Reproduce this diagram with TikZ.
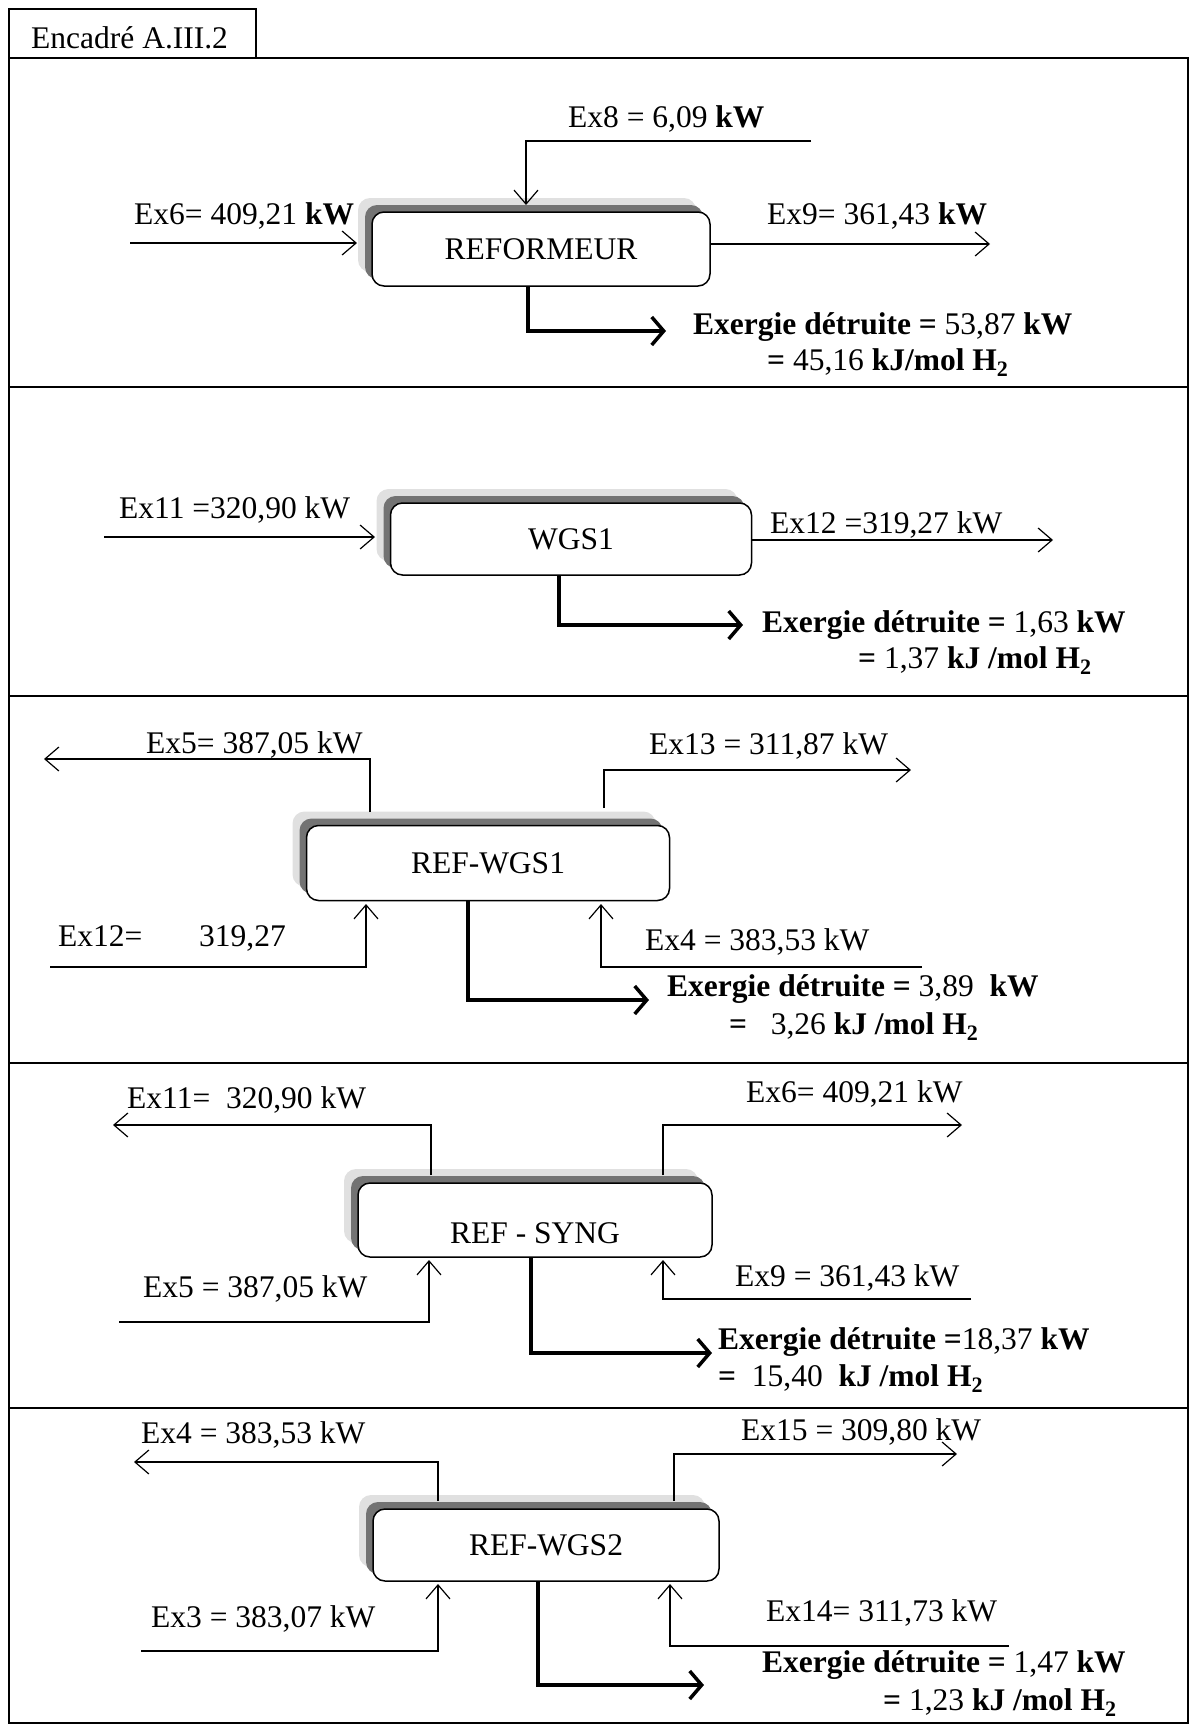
\documentclass[tikz,border=0pt]{standalone}
\usepackage{fontspec}
\setmainfont{Liberation Serif}
\usepackage{tikz}
\usetikzlibrary{
  arrows.meta,
  shadows
}
\tikzset{
  unit/.style={
    draw, line width=1.5pt, rounded corners=12pt, fill=white,
    general shadow={fill=black!12, shadow xshift=-14pt, shadow yshift=14pt},
    general shadow={fill=black!55, shadow xshift=-7pt, shadow yshift=7pt}},
  flow/.style={
    -{Straight Barb[length=14pt,width=24pt]},
    line width=1.2pt},
  loss/.style={
    -{Straight Barb[length=12pt,width=28pt,line width=3.5pt]},
    line width=4pt},
  lbl/.style={inner sep=0pt, anchor=west}
  }

\begin{document}
\begin{tikzpicture}[x=1pt, y=-1pt, font=\fontsize{31.5}{37}\selectfont]
		\useasboundingbox (0,0) rectangle (1189,1724);
		% frame and tab
		\draw [line width=2pt] (9,58) rectangle (1187.5,1722.5);
		\draw [line width=2pt] (9,9) rectangle (256,58);
		\node [lbl] (tab) at (31,38) {Encadré A.III.2};
		\foreach \y in {387,696,1063,1408}
			\draw [line width=2pt] (9,\y) -- (1187.5,\y);

		% reformeur
		\node [unit, minimum width=338pt, minimum height=74pt] (ref) at (541,249) {REFORMEUR};
		\coordinate (i6) at (130,243);
		\coordinate (i6e) at (357,243);
		\coordinate (i8) at (811,141);
		\coordinate (i8e) at (526,205);
		\coordinate (o9) at (990,244);
		\coordinate (l1) at (666,331);
		\draw [flow] (i6) to (i6e);
		\draw [flow] (i8) -| (i8e);
		\draw [flow] (o9 -| ref.east) to (o9);
		\draw [loss] ([xshift=-13pt]ref.south) |- (l1);
		\node [lbl] (t6) at (134,216) {Ex6= 409,21 \textbf{kW}};
		\node [lbl] (t8) at (568,119) {Ex8 = 6,09 \textbf{kW}};
		\node [lbl] (t9) at (767,216) {Ex9= 361,43 \textbf{kW}};
		\node [lbl] (d1a) at (693,327) {\textbf{Exergie détruite =} 53,87 \textbf{kW}};
		\node [lbl] (d1b) at (767,363) {\textbf{=} 45,16 \textbf{kJ/mol H\textsubscript{2}}};

		% wgs1
		\node [unit, minimum width=361pt, minimum height=72pt] (wgs) at (571,539) {WGS1};
		\coordinate (i11) at (104,537);
		\coordinate (i11e) at (375,537);
		\coordinate (o12) at (1053,540);
		\coordinate (l2) at (743,625);
		\draw [flow] (i11) to (i11e);
		\draw [flow] (o12 -| wgs.east) to (o12);
		\draw [loss] ([xshift=-12pt]wgs.south) |- (l2);
		\node [lbl] (t11) at (119,510) {Ex11 =320,90 kW};
		\node [lbl] (t12) at (770,525) {Ex12 =319,27 kW};
		\node [lbl] (d2a) at (762,625) {\textbf{Exergie détruite =} 1,63 \textbf{kW}};
		\node [lbl] (d2b) at (858,661) {\textbf{=} 1,37 \textbf{kJ /mol H\textsubscript{2}}};

		% ref-wgs1
		\node [unit, minimum width=363pt, minimum height=75pt] (rwa) at (488,863) {REF-WGS1};
		\coordinate (o5s) at (370,812);
		\coordinate (o5) at (44,759);
		\coordinate (o13s) at (604,808);
		\coordinate (o13) at (911,770);
		\coordinate (i12) at (50,967);
		\coordinate (i12e) at (366,904);
		\coordinate (i4) at (922,967);
		\coordinate (i4e) at (601,904);
		\coordinate (l3) at (649,1000);
		\draw [flow] (o5s) |- (o5);
		\draw [flow] (o13s) |- (o13);
		\draw [flow] (i12) -| (i12e);
		\draw [flow] (i4) -| (i4e);
		\draw [loss] ([xshift=-20pt]rwa.south) |- (l3);
		\node [lbl] (t5) at (146,745) {Ex5= 387,05 kW};
		\node [lbl] (t13) at (649,746) {Ex13 = 311,87 kW};
		\node [lbl] (t12b) at (58,938) {Ex12=\hspace{1.8em}319,27};
		\node [lbl] (t4) at (645,942) {Ex4 = 383,53 kW};
		\node [lbl] (d3a) at (667,989) {\textbf{Exergie détruite =} 3,89~ \textbf{kW}};
		\node [lbl] (d3b) at (729,1027) {\textbf{=}~~~3,26 \textbf{kJ /mol H\textsubscript{2}}};

		% ref-syng
		\node [unit, minimum width=354pt, minimum height=74pt] (syng) at (535,1220) {};
		\node (syngt) at (535,1233) {REF - SYNG};
		\coordinate (o11s) at (431,1175);
		\coordinate (o11) at (113,1125);
		\coordinate (o6s) at (663,1175);
		\coordinate (o6) at (962,1125);
		\coordinate (i5) at (119,1322);
		\coordinate (i5e) at (429,1260);
		\coordinate (i9) at (971,1299);
		\coordinate (i9e) at (663,1260);
		\coordinate (l4) at (712,1353);
		\draw [flow] (o11s) |- (o11);
		\draw [flow] (o6s) |- (o6);
		\draw [flow] (i5) -| (i5e);
		\draw [flow] (i9) -| (i9e);
		\draw [loss] ([xshift=-4pt]syng.south) |- (l4);
		\node [lbl] (t11b) at (127,1100) {Ex11=~ 320,90 kW};
		\node [lbl] (t6b) at (746,1094) {Ex6= 409,21 kW};
		\node [lbl] (t5b) at (143,1289) {Ex5 = 387,05 kW};
		\node [lbl] (t9b) at (735,1278) {Ex9 = 361,43 kW};
		\node [lbl] (d4a) at (718,1342) {\textbf{Exergie détruite =}18,37 \textbf{kW}};
		\node [lbl] (d4b) at (718,1379) {\textbf{=}~ 15,40~ \textbf{kJ /mol H\textsubscript{2}}};

		% ref-wgs2
		\node [unit, minimum width=346pt, minimum height=72pt] (rwb) at (546,1545) {REF-WGS2};
		\coordinate (o4s) at (438,1501);
		\coordinate (o4) at (134,1462);
		\coordinate (o15s) at (674,1501);
		\coordinate (o15) at (957,1454);
		\coordinate (i3) at (141,1651);
		\coordinate (i3e) at (438,1584);
		\coordinate (i14) at (1009,1646);
		\coordinate (i14e) at (670,1584);
		\coordinate (l5) at (704,1685);
		\draw [flow] (o4s) |- (o4);
		\draw [flow] (o15s) |- (o15);
		\draw [flow] (i3) -| (i3e);
		\draw [flow] (i14) -| (i14e);
		\draw [loss] ([xshift=-8pt]rwb.south) |- (l5);
		\node [lbl] (t4b) at (141,1435) {Ex4 = 383,53 kW};
		\node [lbl] (t15) at (741,1432) {Ex15 = 309,80 kW};
		\node [lbl] (t3) at (151,1619) {Ex3 = 383,07 kW};
		\node [lbl] (t14) at (766,1613) {Ex14= 311,73 kW};
		\node [lbl] (d5a) at (762,1665) {\textbf{Exergie détruite =} 1,47 \textbf{kW}};
		\node [lbl] (d5b) at (883,1703) {\textbf{=} 1,23 \textbf{kJ /mol H\textsubscript{2}}};
	\end{tikzpicture}
\end{document}
